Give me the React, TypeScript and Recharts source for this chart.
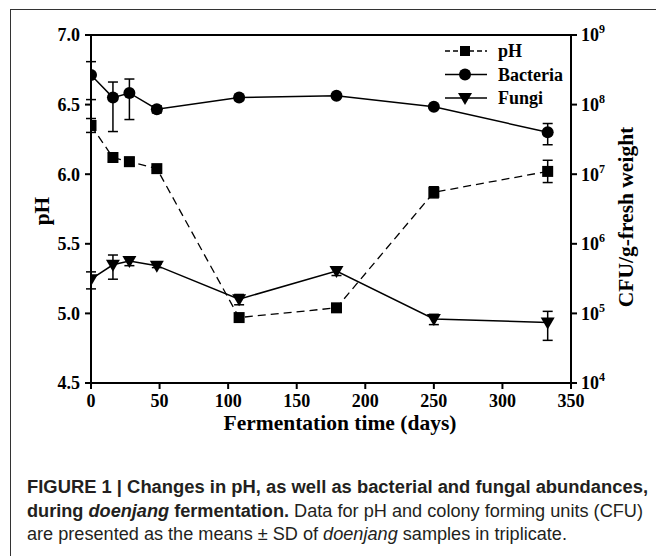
import React from 'react';
import { LineChart, Line, XAxis, YAxis, ErrorBar, ReferenceLine, Legend } from 'recharts';

// ---- data ----
const days = [0, 16, 28, 48, 108, 179, 250, 333];
const phValues = [6.35, 6.12, 6.09, 6.04, 4.97, 5.04, 5.87, 6.02];
const phSD = [0.05, 0.03, 0.03, 0.01, 0.01, 0.01, 0.04, 0.08];
const bacteriaCFU = [2.66e8, 1.26e8, 1.47e8, 8.6e7, 1.26e8, 1.34e8, 9.3e7, 4.0e7];
const bacteriaSD = [1.48e8, 0.85e8, 0.86e8, 1.0e7, 1.1e7, 0.6e7, 0.4e7, 1.35e7];
const fungiCFU = [3.1e5, 5.0e5, 5.65e5, 4.85e5, 1.6e5, 4.05e5, 8.3e4, 7.4e4];
const fungiSD = [0.85e5, 1.9e5, 0.8e5, 0.3e5, 0.27e5, 0.55e5, 1.4e4, 3.3e4];

const xTicks = [0, 50, 100, 150, 200, 250, 300, 350];
const phTicks = [4.5, 5.0, 5.5, 6.0, 6.5, 7.0];
const cfuTicks = [1e4, 1e5, 1e6, 1e7, 1e8, 1e9];
const seriesNames = ['pH', 'Bacteria', 'Fungi'];

const xTitle = 'Fermentation time (days)';
const leftTitle = 'pH';
const rightTitle = 'CFU/g-fresh weight';

const data = days.map((d, i) => ({
  day: d,
  ph: phValues[i],
  phSD: phSD[i],
  bacteria: bacteriaCFU[i],
  bacteriaSD: bacteriaSD[i],
  fungi: fungiCFU[i],
  fungiSD: fungiSD[i],
}));

const SERIF = "'Liberation Serif', 'Times New Roman', serif";
const SANS = "'Liberation Sans Narrow', 'Liberation Sans', Arial, sans-serif";

const Square = ({ cx, cy, s = 11 }: any) => (
  <rect x={cx - s / 2} y={cy - s / 2} width={s} height={s} fill="#000" />
);
const Circle = ({ cx, cy, r = 6 }: any) => <circle cx={cx} cy={cy} r={r} fill="#000" />;
const Tri = ({ cx, cy }: any) => (
  <polygon points={`${cx - 7},${cy - 5} ${cx + 7},${cy - 5} ${cx},${cy + 7}`} fill="#000" />
);

const XTick = (props: any) => {
  const { x, y, payload } = props;
  return (
    <text x={x} y={y} dy="0.71em" textAnchor="middle" fontFamily={SERIF} fontWeight="bold" fontSize={18} fill="#000">
      {payload.value}
    </text>
  );
};

const LeftTick = (props: any) => {
  const { x, y, payload } = props;
  return (
    <text x={x} y={y} dy="0.35em" textAnchor="end" fontFamily={SERIF} fontWeight="bold" fontSize={18} fill="#000">
      {Number(payload.value).toFixed(1)}
    </text>
  );
};

const RightTick = (props: any) => {
  const { x, y, payload } = props;
  const exp = Math.round(Math.log10(payload.value));
  return (
    <text x={x} y={y} dy="0.35em" textAnchor="start" fontFamily={SERIF} fontWeight="bold" fontSize={18} fill="#000">
      10
      <tspan dy={-8} fontSize={12}>{exp}</tspan>
    </text>
  );
};

const LegendContent = () => {
  const rows = [0, 1, 2];
  return (
    <svg width={150} height={75} style={{ display: 'block' }}>
      {rows.map((i) => {
        const cy = 12 + i * 23.5;
        return (
          <g key={seriesNames[i]}>
            <line
              x1={5}
              x2={47}
              y1={cy}
              y2={cy}
              stroke="#000"
              strokeWidth={1.5}
              strokeDasharray={i === 0 ? '5 3' : undefined}
            />
            {i === 0 && <Square cx={25} cy={cy} s={10} />}
            {i === 1 && <Circle cx={25} cy={cy} r={6} />}
            {i === 2 && <Tri cx={25} cy={cy} />}
            <text x={58} y={cy + 6} fontFamily={SERIF} fontWeight="bold" fontSize={18} fill="#000">
              {seriesNames[i]}
            </text>
          </g>
        );
      })}
    </svg>
  );
};

export default function App() {
  return (
    <div style={{ position: 'absolute', left: 0, top: 0, width: 656, height: 556, overflow: 'hidden', background: '#fff' }}>
      <div
        style={{
          position: 'absolute',
          left: 10,
          top: 9,
          width: 680,
          height: 600,
          border: '1px solid #333',
          boxSizing: 'border-box',
        }}
      />
      <div style={{ position: 'absolute', left: 0, top: 0 }}>
        <LineChart width={656} height={556} data={data} margin={{ top: 35, right: 25, bottom: 143, left: 31 }}>
          <XAxis
            type="number"
            dataKey="day"
            domain={[0, 350]}
            ticks={xTicks}
            allowDataOverflow
            height={30}
            tick={<XTick />}
            tickSize={6}
            tickMargin={5}
            axisLine={{ stroke: '#000', strokeWidth: 2 }}
            tickLine={{ stroke: '#000', strokeWidth: 2 }}
            label={{
              value: xTitle,
              content: (p: any) => {
                const vb = p.viewBox;
                return (
                  <text x={vb.x + vb.width / 2 + 9} y={vb.y + 47} textAnchor="middle" fontFamily={SERIF} fontWeight="bold" fontSize={21.5} fill="#000">
                    {xTitle}
                  </text>
                );
              },
            }}
          />
          <YAxis
            yAxisId="left"
            type="number"
            domain={[4.5, 7.0]}
            ticks={phTicks}
            allowDataOverflow
            width={60}
            tick={<LeftTick />}
            tickSize={6}
            tickMargin={5}
            axisLine={{ stroke: '#000', strokeWidth: 2 }}
            tickLine={{ stroke: '#000', strokeWidth: 2 }}
            label={{
              value: leftTitle,
              content: (p: any) => {
                const vb = p.viewBox;
                const x = vb.x + 18;
                const y = vb.y + vb.height / 2 + 2;
                return (
                  <text x={x} y={y} transform={`rotate(-90, ${x}, ${y})`} textAnchor="middle" fontFamily={SERIF} fontWeight="bold" fontSize={21.5} fill="#000">
                    {leftTitle}
                  </text>
                );
              },
            }}
          />
          <YAxis
            yAxisId="right"
            orientation="right"
            type="number"
            scale="log"
            domain={[1e4, 1e9]}
            ticks={cfuTicks}
            allowDataOverflow
            width={60}
            tick={<RightTick />}
            tickSize={6}
            tickMargin={4}
            axisLine={{ stroke: '#000', strokeWidth: 2 }}
            tickLine={{ stroke: '#000', strokeWidth: 2 }}
            label={{
              value: rightTitle,
              content: (p: any) => {
                const vb = p.viewBox;
                const x = vb.x + 62;
                const y = vb.y + vb.height / 2 + 8;
                return (
                  <text x={x} y={y} transform={`rotate(-90, ${x}, ${y})`} textAnchor="middle" fontFamily={SERIF} fontWeight="bold" fontSize={21.5} fill="#000">
                    {rightTitle}
                  </text>
                );
              },
            }}
          />
          <ReferenceLine yAxisId="left" y={7.0} stroke="#000" strokeWidth={2} ifOverflow="visible" />
          <Legend
            layout="vertical"
            align="center"
            verticalAlign="middle"
            wrapperStyle={{ left: 440, top: 39, width: 150 }}
            content={<LegendContent />}
          />
          <Line
            yAxisId="left"
            dataKey="ph"
            name={seriesNames[0]}
            stroke="#000"
            strokeWidth={1.3}
            strokeDasharray="8 5"
            isAnimationActive={false}
            activeDot={false}
            dot={(p: any) => <Square key={`sq-${p.index}`} cx={p.cx} cy={p.cy} />}
          >
            <ErrorBar dataKey="phSD" width={5} stroke="#000" strokeWidth={1.5} direction="y" />
          </Line>
          <Line
            yAxisId="right"
            dataKey="bacteria"
            name={seriesNames[1]}
            stroke="#000"
            strokeWidth={1.5}
            isAnimationActive={false}
            activeDot={false}
            dot={(p: any) => <Circle key={`ci-${p.index}`} cx={p.cx} cy={p.cy} />}
          >
            <ErrorBar dataKey="bacteriaSD" width={5} stroke="#000" strokeWidth={1.5} direction="y" />
          </Line>
          <Line
            yAxisId="right"
            dataKey="fungi"
            name={seriesNames[2]}
            stroke="#000"
            strokeWidth={1.5}
            isAnimationActive={false}
            activeDot={false}
            dot={(p: any) => <Tri key={`tr-${p.index}`} cx={p.cx} cy={p.cy} />}
          >
            <ErrorBar dataKey="fungiSD" width={5} stroke="#000" strokeWidth={1.5} direction="y" />
          </Line>
        </LineChart>
      </div>
      <svg width={656} height={556} style={{ position: 'absolute', left: 0, top: 0, pointerEvents: 'none' }}>
        <text x={27} y={493} textLength={621} lengthAdjust="spacingAndGlyphs" fontFamily={SANS} fontSize={17.5} fontWeight="bold" fill="#231f20">
          FIGURE 1 | Changes in pH, as well as bacterial and fungal abundances,
        </text>
        <text x={27} y={517} textLength={616} lengthAdjust="spacingAndGlyphs" fontFamily={SANS} fontSize={17.5} fill="#231f20">
          <tspan fontWeight="bold">{'during '}</tspan>
          <tspan fontWeight="bold" fontStyle="italic">doenjang</tspan>
          <tspan fontWeight="bold">{' fermentation.'}</tspan>
          <tspan>{' Data for pH and colony forming units (CFU)'}</tspan>
        </text>
        <text x={27} y={540} textLength={540} lengthAdjust="spacingAndGlyphs" fontFamily={SANS} fontSize={17.5} fill="#231f20">
          <tspan>{'are presented as the means \u00b1 SD of '}</tspan>
          <tspan fontStyle="italic">doenjang</tspan>
          <tspan>{' samples in triplicate.'}</tspan>
        </text>
      </svg>
    </div>
  );
}
